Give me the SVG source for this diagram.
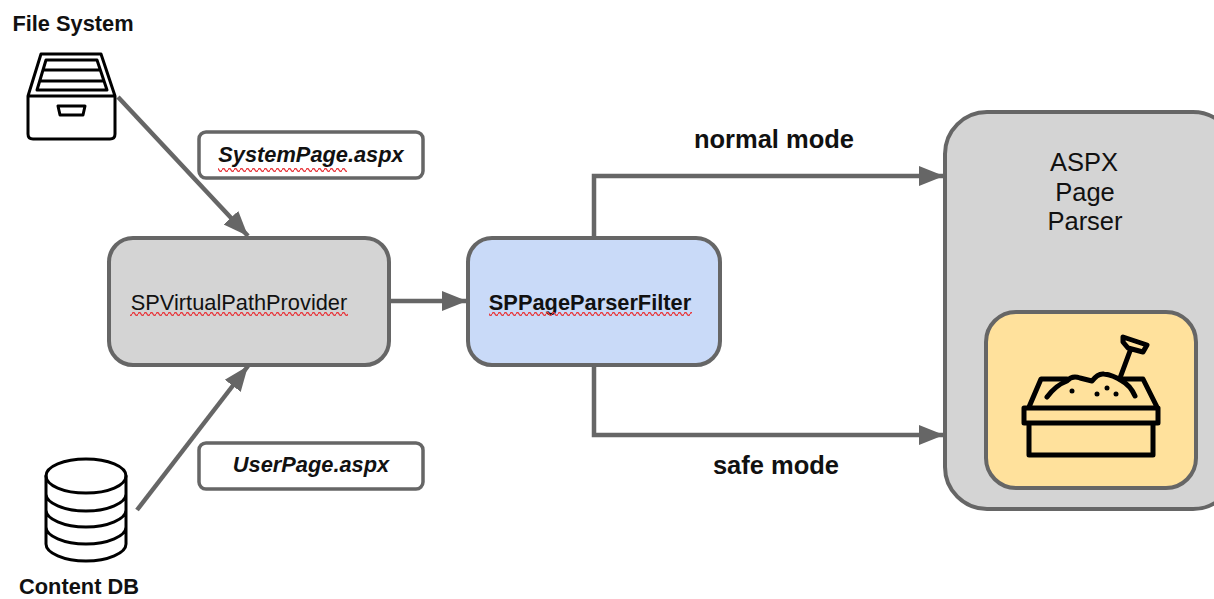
<svg xmlns="http://www.w3.org/2000/svg" width="1214" height="599" viewBox="0 0 1214 599">
<style>
text{font-family:"Liberation Sans",Arial,sans-serif;fill:#111}
.b{font-weight:700}
.m{text-anchor:middle}
.s22{font-size:21.800px}
.s25{font-size:25.500px}
.box{stroke:#666;stroke-width:4}
.lab{fill:#fff;stroke:#666;stroke-width:3.500}
.c{fill:none;stroke:#666;stroke-width:4.500}
.ic{fill:none;stroke:#000;stroke-width:3;stroke-linecap:round;stroke-linejoin:round}
.ic5{fill:none;stroke:#000;stroke-width:5;stroke-linecap:round;stroke-linejoin:round}
.sq{fill:url(#wave)}
</style>
<defs>
<marker id="a" markerUnits="userSpaceOnUse" markerWidth="26" markerHeight="22" refX="25" refY="11" orient="auto"><path d="M0 1L25 11L0 21z" fill="#666"/></marker>
<pattern id="wave" patternUnits="userSpaceOnUse" width="6" height="4" y="0"><path d="M0 2Q1.500 -1 3 2T6 2" fill="none" stroke="#e8383d" stroke-width="1.300"/></pattern>
</defs>
<rect width="1214" height="599" fill="#fff"/>
<g id="connectors">
<path class="c" marker-end="url(#a)" d="M118 97L248 236"/>
<path class="c" marker-end="url(#a)" d="M137 510L248 366"/>
<path class="c" marker-end="url(#a)" d="M390 301H467"/>
<path class="c" marker-end="url(#a)" d="M594 238V176H944"/>
<path class="c" marker-end="url(#a)" d="M594 365V435H944"/>
</g>
<g id="file-system">
<text class="b m s22" x="73" y="31">File System</text>
<path class="ic" d="M28 96L41 54H101L115 96M28 96H115V134Q115 139 110 139H33Q28 139 28 134Z"/>
<path class="ic" d="M37 90L46 60H97L107 90ZM44 70H100M40 81H103M58 106H85L83 115H60Z"/>
</g>
<g id="content-db">
<ellipse class="ic" cx="86" cy="476" rx="40" ry="17"/>
<path class="ic" d="M46 476V544C46 553 64 561 86 561S126 553 126 544V476M46 494C46 503 64 511 86 511S126 503 126 494M46 510C46 519 64 527 86 527S126 519 126 510M46 527C46 536 64 544 86 544S126 536 126 527"/>
<text class="b m s22" x="79" y="594">Content DB</text>
</g>
<g id="system-page">
<rect class="lab" x="199" y="132" width="224" height="46" rx="7"/>
<text class="b m s22" x="311" y="162" font-style="italic">SystemPage.aspx</text>
<rect class="sq" x="218" y="168" width="129" height="4"/>
</g>
<g id="user-page">
<rect class="lab" x="199" y="443" width="224" height="46" rx="7"/>
<text class="b m s22" x="311" y="472" font-style="italic">UserPage.aspx</text>
</g>
<g id="sp-virtual-path-provider">
<rect class="box" x="109" y="238" width="280" height="127" rx="24" fill="#d4d4d4"/>
<text class="m s22" x="239" y="310">SPVirtualPathProvider</text>
<rect class="sq" x="130" y="312" width="218" height="4"/>
</g>
<g id="sp-page-parser-filter">
<rect class="box" x="468" y="238" width="252" height="127" rx="24" fill="#c9daf8"/>
<text class="b m s22" x="590" y="310">SPPageParserFilter</text>
<rect class="sq" x="489" y="312" width="203" height="4"/>
</g>
<g id="mode-labels">
<text class="b m s25" x="774" y="148">normal mode</text>
<text class="b m s25" x="776" y="474">safe mode</text>
</g>
<g id="aspx-page-parser">
<rect class="box" x="945" y="112" width="290" height="397" rx="42" fill="#d4d4d4"/>
<text class="m s25" x="1084" y="171">ASPX</text>
<text class="m s25" x="1085" y="201">Page</text>
<text class="m s25" x="1085" y="230">Parser</text>
</g>
<g id="sandbox">
<rect class="box" x="986" y="312" width="210" height="176" rx="30" fill="#ffe19c"/>
<path class="ic5" d="M1029 407L1041 379H1067M1120 379H1143L1157 407M1024 408H1158V423H1024ZM1029 423V455H1153V423"/>
<path class="ic5" d="M1047 397Q1056 385 1067 381Q1072 375 1080 378L1092 381Q1098 373 1104 374Q1113 375 1122 381Q1130 385 1135 396"/>
<path class="ic5" d="M1120 378L1130 351M1123 337L1147 345L1143 352L1128 348L1123 342Z"/>
<g fill="#000"><circle cx="1072" cy="391" r="2.500"/><circle cx="1097" cy="394" r="2.500"/><circle cx="1107" cy="388" r="2.500"/><circle cx="1116" cy="394" r="2.500"/></g>
</g>
</svg>
